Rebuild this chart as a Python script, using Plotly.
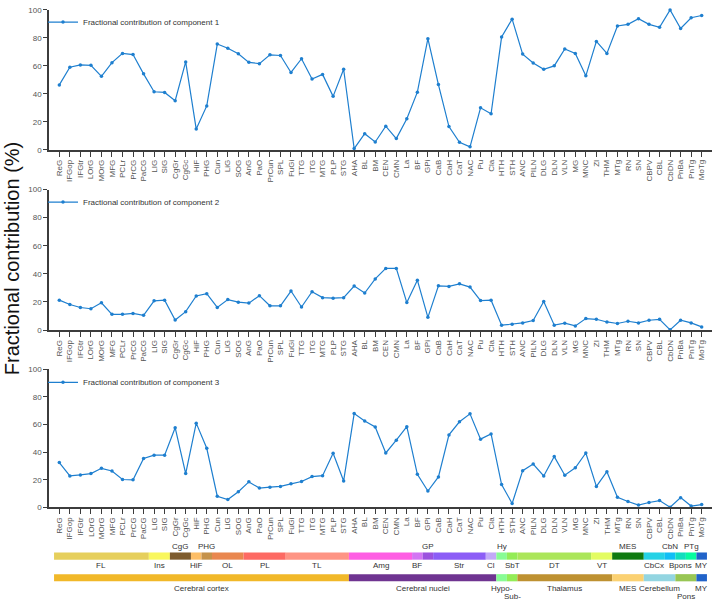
import plotly.graph_objects as go

W, H = 718, 609

regions = ["ReG","IFGop","IFGtr","LOrG","MOrG","MFG","PCLr","PrCG","PaCG","LIG","SIG",
           "CgGr","CgGc","HiF","PHG","Cun","LiG","SOG","AnG","PaO","PrCun","SPL","FuGi",
           "TTG","ITG","MTG","PLP","STG","AHA","BL","BM","CEN","CMN","La","BF","GPi",
           "CaB","CaH","CaT","NAC","Pu","Cla","HTH","STH","ANC","PILN","DLG","DLN","VLN",
           "MG","MNC","ZI","THM","MTg","RN","SN","CBPV","CBL","CbDN","PnBa","PnTg","MoTg"]

comp1 = [46.4,59.0,60.7,60.4,52.5,62.3,68.9,68.1,54.3,41.5,41.0,35.1,62.8,14.8,31.4,
         75.6,72.6,68.6,62.5,61.6,67.9,67.4,55.3,65.1,50.6,53.9,38.2,57.6,0.9,11.5,
         5.6,16.9,8.0,22.2,41.2,79.4,46.6,16.6,5.4,2.1,30.0,25.8,80.6,93.4,68.4,62.1,
         57.6,60.0,72.1,68.9,52.9,77.5,68.9,88.5,89.7,93.7,89.7,87.6,100.0,86.7,94.4,96.0]
comp2 = [21.3,18.2,16.1,15.2,19.4,11.2,11.2,11.9,10.5,20.8,21.3,7.2,13.1,24.3,25.9,
         16.1,21.7,19.9,19.2,24.5,17.3,17.3,27.8,16.4,27.3,23.1,22.7,23.1,31.3,26.4,
         36.4,43.9,43.9,19.6,35.5,9.1,31.5,31.1,32.9,30.6,21.0,21.3,3.5,4.2,5.1,6.8,
         20.3,3.5,4.9,3.0,8.2,7.7,5.8,4.7,6.3,5.1,7.0,7.7,0.2,7.0,5.1,2.3]
comp3 = [32.5,22.8,23.5,24.5,28.3,26.4,20.2,20.0,35.4,37.8,37.8,57.7,24.5,61.0,42.8,
         8.1,5.7,11.4,18.5,14.0,14.7,15.2,17.1,18.8,22.3,23.0,39.2,19.2,67.9,62.5,
         58.2,39.4,48.7,58.4,24.0,11.9,22.1,52.5,62.0,67.7,49.4,53.2,16.6,2.9,26.6,
         31.4,22.8,36.8,23.3,28.7,39.4,15.2,25.9,7.4,4.3,1.7,3.6,5.0,0.2,7.1,1.0,2.1]

series_names = ["Fractional contribution of component 1",
                "Fractional contribution of component 2",
                "Fractional contribution of component 3"]
y_ticks = [0, 20, 40, 60, 80, 100]

# Subregion band (first row)
sub_labels = ["FL","Ins","CgG","HiF","PHG","OL","PL","TL","Amg","BF","GP","Str","Cl",
              "Hy","SbT","DT","VT","MES","CbCx","CbN","Bpons","PTg","MY"]
sub_start = [0,9,11,13,14,15,18,22,28,34,35,36,41,42,43,44,51,53,56,58,59,60,61]
sub_end   = [8,10,12,13,14,17,21,27,33,34,35,40,41,42,43,50,52,55,57,58,59,60,61]
sub_colors = ["#E6CF5C","#F9F75E","#7E5C2E","#FDBE66","#C5924A","#E9874F","#FD6A63",
              "#FE9484","#FE5EE3","#D375F3","#9B52DE","#8C5DF6","#C2AAF8","#88FC95",
              "#93EC56","#ABE65A","#E3FC62","#0F7A10","#25D2E6","#11BEF6","#12DDBE",
              "#06FC9F","#2163C9"]
sub_side = ["below","below","above","below","above","below","below","below","below",
            "below","above","below","below","above","below","below","below","above",
            "below","above","below","above","below"]

# Major region band (second row)
major_labels = ["Cerebral cortex","Cerebral nuclei","Hypo-","Sub-","Thalamus","MES",
                "Cerebellum","Pons","MY"]
major_start = [0,28,42,43,44,53,56,59,61]
major_end   = [27,41,42,43,52,55,58,60,61]
major_colors = ["#F1B829","#6F3491","#88FC95","#93EC56","#BE9131","#FBD172","#93D5E1",
                "#98C654","#2163C9"]
major_stagger = [0,0,0,1,0,0,0,1,0]

def py(px):
    return 1 - px / H

x_idx = list(range(len(regions)))
line_color = "#1E7FCF"
x_dom = [49 / W, 712 / W]
x_rng = [-0.98, 61.98]
panels = [(6, 148), (188.3, 331), (370.7, 511)]
legend_y = [18.3, 201, 384]

fig = go.Figure()
for i, vals in enumerate([comp1, comp2, comp3]):
    sfx = "" if i == 0 else str(i + 1)
    fig.add_trace(go.Scatter(
        x=x_idx, y=vals, mode="lines+markers", name=series_names[i],
        line=dict(color=line_color, width=1.2),
        marker=dict(color=line_color, size=3.5),
        xaxis="x" + sfx, yaxis="y" + sfx, legend="legend" + sfx,
        cliponaxis=False, showlegend=True,
    ))

axis_col = "#3C3C3C"
layout = dict(
    width=W, height=H, margin=dict(l=0, r=0, t=0, b=0),
    paper_bgcolor="white", plot_bgcolor="white", showlegend=True,
    font=dict(family="Liberation Sans, Arial", size=8, color="#444"),
)
for i, (top, bot) in enumerate(panels):
    sfx = "" if i == 0 else str(i + 1)
    layout["xaxis" + sfx] = dict(
        domain=x_dom, range=x_rng, anchor="y" + sfx,
        tickmode="array", tickvals=x_idx, ticktext=regions, tickangle=-90,
        ticks="outside", ticklen=5, tickwidth=1, tickcolor=axis_col,
        showline=True, linecolor=axis_col, linewidth=1.5,
        showgrid=False, zeroline=False,
        tickfont=dict(size=8, color="#555"),
    )
    layout["yaxis" + sfx] = dict(
        domain=[py(bot), py(top)], range=[0, 100], anchor="x" + sfx,
        tickmode="array", tickvals=y_ticks,
        ticks="outside", ticklen=4, tickwidth=1, tickcolor=axis_col,
        showline=True, linecolor=axis_col, linewidth=1.5,
        showgrid=False, zeroline=False,
        tickfont=dict(size=8, color="#555"),
    )
    layout["legend" + sfx] = dict(
        x=43 / W, xanchor="left", y=py(legend_y[i]), yanchor="middle",
        bgcolor="rgba(0,0,0,0)", borderwidth=0,
        font=dict(size=8, color="#333"),
    )

shapes = []
annotations = []
r1 = (556.7, 564.0)
r2 = (578.7, 586.0)
for lab, s, e, c, side in zip(sub_labels, sub_start, sub_end, sub_colors, sub_side):
    shapes.append(dict(type="rect", xref="x3", yref="paper", x0=s - 0.5, x1=e + 0.5,
                       y0=py(r1[1]), y1=py(r1[0]), fillcolor=c, line=dict(width=0),
                       layer="above"))
    ypos = 550.5 if side == "above" else 570.0
    annotations.append(dict(text=lab, x=(s + e) / 2, xref="x3", y=py(ypos), yref="paper",
                            showarrow=False, xanchor="center", yanchor="middle",
                            font=dict(size=8, color="#333")))
for lab, s, e, c, st in zip(major_labels, major_start, major_end, major_colors, major_stagger):
    shapes.append(dict(type="rect", xref="x3", yref="paper", x0=s - 0.5, x1=e + 0.5,
                       y0=py(r2[1]), y1=py(r2[0]), fillcolor=c, line=dict(width=0),
                       layer="above"))
    ypos = 601.0 if st else 593.0
    annotations.append(dict(text=lab, x=(s + e) / 2, xref="x3", y=py(ypos), yref="paper",
                            showarrow=False, xanchor="center", yanchor="middle",
                            font=dict(size=8, color="#333")))

annotations.append(dict(text="Fractional contribution (%)", x=12 / W, y=py(259),
                        xref="paper", yref="paper", showarrow=False, textangle=-90,
                        xanchor="center", yanchor="middle",
                        font=dict(size=20, color="#111")))

layout["shapes"] = shapes
layout["annotations"] = annotations
fig.update_layout(**layout)
fig.write_html("out.html")
